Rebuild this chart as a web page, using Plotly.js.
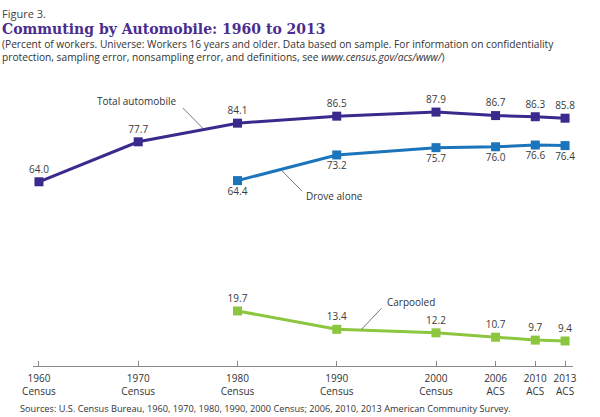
<!DOCTYPE html>
<html>
<head>
<meta charset="utf-8">
<script src="https://cdn.plot.ly/plotly-3.0.1.min.js"></script>
<style>
html,body{margin:0;padding:0;background:#fff;}
#chart{width:600px;height:417px;}
</style>
</head>
<body>
<div id="chart"></div>
<script>
// Data
const years = [1960, 1970, 1980, 1990, 2000, 2006, 2010, 2013];
const tickLabels = ["1960<br>Census", "1970<br>Census", "1980<br>Census", "1990<br>Census", "2000<br>Census", "2006<br>ACS", "2010<br>ACS", "2013<br>ACS"];
const totalYears = [1960, 1970, 1980, 1990, 2000, 2006, 2010, 2013];
const totalAutomobile = [64.0, 77.7, 84.1, 86.5, 87.9, 86.7, 86.3, 85.8];
const droveYears = [1980, 1990, 2000, 2006, 2010, 2013];
const droveAlone = [64.4, 73.2, 75.7, 76.0, 76.6, 76.4];
const carpoolYears = [1980, 1990, 2000, 2006, 2010, 2013];
const carpooled = [19.7, 13.4, 12.2, 10.7, 9.7, 9.4];

const PURPLE = '#3b2a8d', BLUE = '#1c75bb', GREEN = '#8cc63f';
const SANS = 'Open Sans, DejaVu Sans, sans-serif';
const labelFont = {family: SANS, size: 10, color: '#3a3a3a'};

function series(x, y, color, pos) {
  return {
    x: x, y: y, type: 'scatter', mode: 'lines+markers+text',
    line: {color: color, width: 3},
    marker: {symbol: 'square', size: 9, color: color},
    text: y.map(v => v.toFixed(1)), textposition: pos,
    textfont: labelFont, cliponaxis: false, hoverinfo: 'skip', showlegend: false
  };
}

const data = [
  series(totalYears, totalAutomobile, PURPLE, 'top center'),
  series(droveYears, droveAlone, BLUE, 'bottom center'),
  series(carpoolYears, carpooled, GREEN, 'top center')
];

const seriesNameFont = {family: SANS, size: 10, color: '#333'};
const leaderLine = {color: '#555', width: 0.8};

const layout = {
  width: 600, height: 417,
  margin: {l: 33, r: 27, t: 80, b: 51},
  paper_bgcolor: '#fff', plot_bgcolor: '#fff',
  showlegend: false,
  xaxis: {
    range: [1959.4, 2013.8], tickmode: 'array', tickvals: years, ticktext: tickLabels,
    showgrid: false, zeroline: false, showline: true, linecolor: '#888', linewidth: 1,
    ticks: 'inside', ticklen: 5, tickcolor: '#888', ticklabelstandoff: 3,
    tickfont: {family: SANS, size: 10, color: '#333'},
    fixedrange: true
  },
  yaxis: {
    range: [0.82, 98.9], visible: false, fixedrange: true
  },
  annotations: [
    {xref: 'paper', yref: 'paper', x: -33/540, y: 1 + 66/286, xanchor: 'left', yanchor: 'middle', showarrow: false,
     text: 'Figure 3.', font: {family: SANS, size: 11, color: '#444'}},
    {xref: 'paper', yref: 'paper', x: -33/540, y: 1 + 51/286, xanchor: 'left', yanchor: 'middle', showarrow: false,
     text: '<b>Commuting by Automobile: 1960 to 2013</b>', font: {family: 'DejaVu Serif, serif', size: 14, color: '#4a2d8f'}},
    {xref: 'paper', yref: 'paper', x: -33/540, y: 1 + 29.5/286, xanchor: 'left', yanchor: 'middle', align: 'left', showarrow: false,
     text: '(Percent of workers. Universe: Workers 16 years and older. Data based on sample. For information on confidentiality<br>protection, sampling error, nonsampling error, and definitions, see <i>www.census.gov/acs/www/</i>)',
     font: {family: SANS, size: 10.2, color: '#333'}},
    {xref: 'paper', yref: 'paper', x: -15/540, y: -42/286, xanchor: 'left', yanchor: 'middle', showarrow: false,
     text: 'Sources: U.S. Census Bureau, 1960, 1970, 1980, 1990, 2000 Census; 2006, 2010, 2013 American Community Survey.',
     font: {family: SANS, size: 9.2, color: '#333'}},
    {xref: 'x', yref: 'y', x: 1969.8, y: 91.8, showarrow: false, text: 'Total automobile', font: seriesNameFont},
    {xref: 'x', yref: 'y', x: 1989.8, y: 59.1, showarrow: false, text: 'Drove alone', font: seriesNameFont},
    {xref: 'x', yref: 'y', x: 1997.5, y: 22.9, showarrow: false, text: 'Carpooled', font: seriesNameFont}
  ],
  shapes: [
    {type: 'line', xref: 'x', yref: 'y', x0: 1974.5, y0: 89.3, x1: 1976.6, y1: 82.0, line: leaderLine},
    {type: 'line', xref: 'x', yref: 'y', x0: 1984.5, y0: 67.7, x1: 1986.5, y1: 60.8, line: leaderLine},
    {type: 'line', xref: 'x', yref: 'y', x0: 1994.5, y0: 20.6, x1: 1992.5, y1: 13.4, line: leaderLine}
  ]
};

Plotly.newPlot('chart', data, layout, {displayModeBar: false, staticPlot: true});
</script>
</body>
</html>
